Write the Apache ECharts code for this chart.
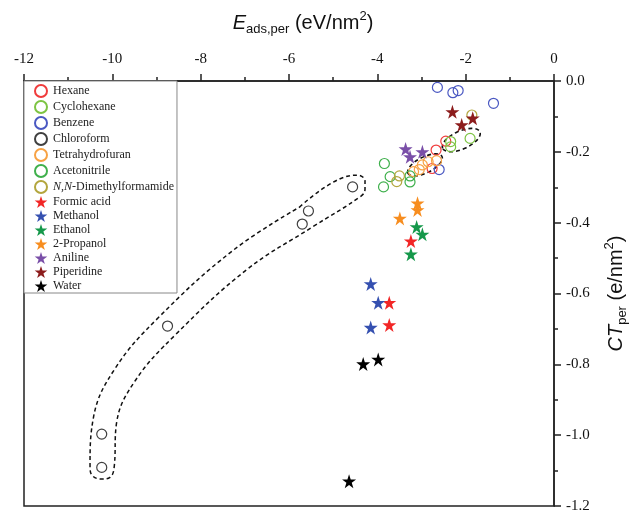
<!DOCTYPE html>
<html>
<head>
<meta charset="utf-8">
<script src="https://cdn.jsdelivr.net/npm/echarts@6/dist/echarts.min.js"></script>
<style>html,body{margin:0;padding:0;background:#fff}#c{width:634px;height:512px}</style>
</head>
<body>
<div id="c"></div>
<script>
// ---- axis ranges / ticks ----
const xRange = [-12, 0];
const xStep = 2;
const yRange = [-1.2, 0];
const yStep = 0.2;

// ---- series names ----
const names = ['Hexane','Cyclohexane','Benzene','Chloroform','Tetrahydrofuran','Acetonitrile','N,N-Dimethylformamide',
  'Formic acid','Methanol','Ethanol','2-Propanol','Aniline','Piperidine','Water'];

// ---- data [E_ads,per, CT_per] ----
const hexane = [[-2.76,-0.247],[-2.67,-0.195],[-2.45,-0.170]];
const cyclohexane = [[-2.34,-0.171],[-2.34,-0.186],[-1.90,-0.162]];
const benzene = [[-2.64,-0.018],[-2.29,-0.033],[-2.17,-0.027],[-1.37,-0.063],[-2.60,-0.250]];
const chloroform = [[-10.24,-0.997],[-10.24,-1.091],[-8.75,-0.692],[-5.70,-0.404],[-5.56,-0.367],[-4.56,-0.299]];
const thf = [[-3.18,-0.256],[-3.05,-0.250],[-2.98,-0.237],[-2.85,-0.228],[-2.66,-0.225]];
const acetonitrile = [[-3.84,-0.233],[-3.71,-0.270],[-3.86,-0.299],[-3.26,-0.268],[-3.26,-0.285]];
const dmf = [[-3.50,-0.268],[-3.56,-0.284],[-1.86,-0.096]];
const formic = [[-3.24,-0.452],[-3.73,-0.626],[-3.73,-0.689]];
const methanol = [[-4.15,-0.573],[-3.98,-0.626],[-4.15,-0.696]];
const ethanol = [[-3.11,-0.412],[-2.98,-0.433],[-3.24,-0.489]];
const propanol = [[-3.09,-0.345],[-3.09,-0.364],[-3.49,-0.388]];
const aniline = [[-3.36,-0.192],[-3.26,-0.214],[-2.98,-0.200]];
const piperidine = [[-2.30,-0.087],[-2.09,-0.124],[-1.84,-0.105]];
const water = [[-4.32,-0.799],[-3.98,-0.786],[-4.64,-1.130]];

// ---- dashed annotation outlines (data units) ----
const loopOutline = [[-5.762,-0.356],[-4.650,-0.268],[-4.437,-0.266],[-4.279,-0.282],[-4.279,-0.305],[-4.369,-0.325],
  [-5.467,-0.412],[-6.950,-0.532],[-8.567,-0.716],[-9.486,-0.847],[-9.905,-0.966],[-9.961,-1.093],[-10.052,-1.119],
  [-10.256,-1.124],[-10.460,-1.113],[-10.505,-1.088],[-10.426,-0.949],[-9.939,-0.812],[-8.956,-0.668],[-7.274,-0.479],
  [-5.762,-0.356]];
// ellipses: [centerX, centerY, semiMajor (x units), semiMinor (x units), tilt deg]
const ellipses = [[-2.921,-0.237,0.430,0.181,26.4],[-2.099,-0.1667,0.462,0.204,24]];

const STAR = 'path://M50,0L61.2,34.5L97.6,34.5L68.2,55.9L79.4,90.5L50,69.1L20.6,90.5L31.8,55.9L2.4,34.5L38.8,34.5Z';
const serif = "'Times New Roman','Liberation Serif',serif";
const sans = "Arial,'Liberation Sans',sans-serif";

function circ(name, data, color) {
  return {type:'scatter', name, data, symbol:'circle', symbolSize:10, z:3,
    itemStyle:{color:'rgba(255,255,255,0)', borderColor:color, borderWidth:1.2, opacity:1}};
}
function star(name, data, color) {
  return {type:'scatter', name, data, symbol:STAR, symbolSize:14, z:4,
    itemStyle:{color:color, opacity:1}};
}

const chart = echarts.init(document.getElementById('c'), null, {renderer:'canvas'});
chart.setOption({
  animation:false,
  grid:{left:24, right:80, top:81, bottom:6, outerBoundsMode:'none', containLabel:false,
    show:true, borderColor:'#222', borderWidth:1.5, backgroundColor:'transparent'},
  legend:{
    data:names, orient:'vertical', left:24, top:81, itemWidth:14, itemHeight:12, itemGap:2,
    padding:[3,3,1,10], borderColor:'#888', borderWidth:1, backgroundColor:'#fff',
    formatter: n => n === 'N,N-Dimethylformamide' ? '{it|N,N}-Dimethylformamide' : n,
    textStyle:{fontFamily:serif, fontSize:12, lineHeight:12, color:'#222',
      rich:{it:{fontFamily:serif, fontSize:12, lineHeight:12, fontStyle:'italic', color:'#222'}}}
  },
  xAxis:{type:'value', position:'top', min:xRange[0], max:xRange[1], interval:xStep,
    splitLine:{show:false},
    axisLine:{show:true, onZero:false, lineStyle:{color:'#222', width:1.5}},
    axisTick:{show:true, inside:false, length:7, lineStyle:{color:'#222', width:1.5}},
    minorTick:{show:true, splitNumber:2, length:4, lineStyle:{color:'#222', width:1.5}},
    axisLabel:{margin:14, fontFamily:serif, fontSize:15, color:'#111'},
    name:'{i|E}{sub|ads,per}{n| (eV/nm}{sup|2}{n|)}', nameLocation:'middle', nameGap:45,
    nameTextStyle:{padding:[0,0,0,28], fontFamily:sans, fontSize:20, color:'#111',
      rich:{i:{fontFamily:sans, fontSize:20, fontStyle:'italic', lineHeight:26, color:'#111'},
        n:{fontFamily:sans, fontSize:20, lineHeight:26, color:'#111'},
        sub:{fontFamily:sans, fontSize:13, lineHeight:13, verticalAlign:'bottom', color:'#111'},
        sup:{fontFamily:sans, fontSize:13, lineHeight:13, verticalAlign:'top', color:'#111'}}}
  },
  yAxis:{type:'value', position:'right', min:yRange[0], max:yRange[1], interval:yStep,
    splitLine:{show:false},
    axisLine:{show:true, onZero:false, lineStyle:{color:'#222', width:1.5}},
    axisTick:{show:true, inside:false, length:7, lineStyle:{color:'#222', width:1.5}},
    minorTick:{show:true, splitNumber:2, length:4, lineStyle:{color:'#222', width:1.5}},
    axisLabel:{margin:12, fontFamily:serif, fontSize:15, color:'#111', formatter:v => v.toFixed(1)},
    name:'{i|CT}{sub|per}{n| (e/nm}{sup|2}{n|)}', nameLocation:'middle', nameRotate:90, nameGap:49,
    nameTextStyle:{fontFamily:sans, fontSize:20, color:'#111',
      rich:{i:{fontFamily:sans, fontSize:20, fontStyle:'italic', lineHeight:26, color:'#111'},
        n:{fontFamily:sans, fontSize:20, lineHeight:26, color:'#111'},
        sub:{fontFamily:sans, fontSize:13, lineHeight:13, verticalAlign:'bottom', color:'#111'},
        sup:{fontFamily:sans, fontSize:13, lineHeight:13, verticalAlign:'top', color:'#111'}}}
  },
  series:[
    {type:'line', name:'loop', data:loopOutline, smooth:0.4, symbol:'none', silent:true, z:2,
      lineStyle:{color:'#111', width:1.5, type:[4,3]}},
    {type:'custom', name:'ellipses', data:ellipses, silent:true, z:2, clip:false,
      renderItem:(params, api) => {
        const c = api.coord([api.value(0), api.value(1)]);
        const rx = api.size([api.value(2), 0])[0];
        const ry = api.size([api.value(3), 0])[0];
        return {type:'ellipse', x:c[0], y:c[1], rotation:api.value(4)*Math.PI/180,
          shape:{cx:0, cy:0, rx:rx, ry:ry},
          style:{fill:null, stroke:'#111', lineWidth:1.6, lineDash:[4,3]}};
      }},
    circ('Hexane', hexane, '#F03C3C'),
    circ('Cyclohexane', cyclohexane, '#7DC443'),
    circ('Benzene', benzene, '#4A58C2'),
    circ('Chloroform', chloroform, '#404040'),
    circ('Tetrahydrofuran', thf, '#F7A244'),
    circ('Acetonitrile', acetonitrile, '#3FB04C'),
    circ('N,N-Dimethylformamide', dmf, '#B3A63E'),
    star('Formic acid', formic, '#F22626'),
    star('Methanol', methanol, '#3550B0'),
    star('Ethanol', ethanol, '#15984A'),
    star('2-Propanol', propanol, '#F78D1F'),
    star('Aniline', aniline, '#7A4FA8'),
    star('Piperidine', piperidine, '#8C1C1C'),
    star('Water', water, '#000000')
  ]
});
</script>
</body>
</html>
